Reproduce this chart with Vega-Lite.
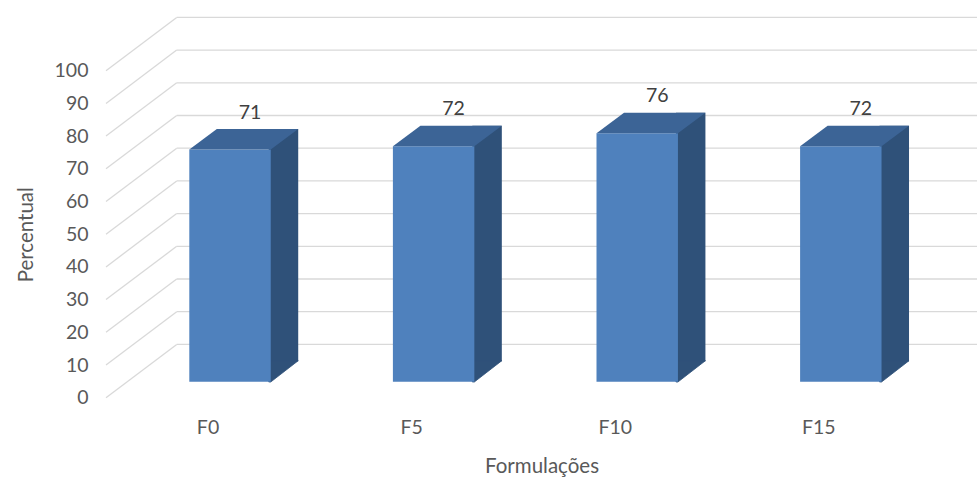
{
  "$schema": "https://vega.github.io/schema/vega-lite/v6.json",
  "width": 871,
  "height": 327,
  "autosize": {"type": "none"},
  "padding": {"left": 106, "top": 70.7, "right": 0, "bottom": 84.3},
  "background": "white",
  "config": {"view": {"stroke": null}, "font": "Lato", "axisY": {"labelOverlap": false, "tickCount": 11}},
  "datasets": {
    "bars": [
      {"f": "F0", "v": 71},
      {"f": "F5", "v": 72},
      {"f": "F10", "v": 76},
      {"f": "F15", "v": 72}
    ],
    "grid": [
      {"t": 0}, {"t": 10}, {"t": 20}, {"t": 30}, {"t": 40}, {"t": 50},
      {"t": 60}, {"t": 70}, {"t": 80}, {"t": 90}, {"t": 100}
    ]
  },
  "layer": [
    {
      "data": {"name": "grid"},
      "mark": {"type": "rule", "color": "#D9D9D9", "strokeWidth": 1.3, "yOffset": -53.3},
      "encoding": {
        "x": {"value": 70.7},
        "x2": {"value": 871},
        "y": {
          "field": "t", "type": "quantitative",
          "scale": {"domain": [0, 100], "nice": false},
          "title": "Percentual",
          "axis": {
            "values": [0, 10, 20, 30, 40, 50, 60, 70, 80, 90, 100],
            "labelOverlap": false,
            "domain": false, "ticks": false, "grid": false,
            "labelPadding": 18, "labelFontSize": 19.5, "labelColor": "#595959",
            "titleFontSize": 20.5, "titleColor": "#595959", "titleFontWeight": "normal",
            "titlePadding": 18
          }
        }
      }
    },
    {
      "data": {"name": "grid"},
      "mark": {"type": "rule", "color": "#D9D9D9", "strokeWidth": 1.3, "y2Offset": -53.3},
      "encoding": {
        "x": {"value": 0},
        "x2": {"value": 70.7},
        "y": {"field": "t", "type": "quantitative", "title": "Percentual"},
        "y2": {"field": "t"}
      }
    },
    {
      "data": {"name": "bars"},
      "mark": {"type": "bar", "color": "#2F5179", "width": 29.5, "xOffset": 53.45, "yOffset": -36.5, "y2Offset": -36.5},
      "encoding": {
        "x": {
          "field": "f", "type": "nominal", "sort": null,
          "scale": {"paddingInner": 0.6, "paddingOuter": 0.439, "align": 0.466},
          "title": "Formulações",
          "axis": {
            "labelFontSize": 19.5, "labelColor": "#595959", "labelPadding": 21,
            "labelOffset": -22, "labelAngle": 0, "domain": false, "ticks": false,
            "titleFontSize": 20.5, "titleColor": "#595959", "titleFontWeight": "normal",
            "titlePadding": 19
          }
        },
        "y": {"field": "v", "type": "quantitative", "title": "Percentual"},
        "y2": {"datum": 0}
      }
    },
    {
      "data": {"name": "bars"},
      "mark": {"type": "point", "shape": "M38.7,-21 L38.7,0.3 L40.7,0.3 L68.2,-21 Z", "size": 4, "filled": true, "color": "#2F5179", "opacity": 1, "stroke": "#2F5179", "strokeWidth": 0.8, "yOffset": -16},
      "encoding": {
        "x": {"field": "f", "type": "nominal", "sort": null, "title": "Formulações"},
        "y": {"datum": 0, "type": "quantitative"}
      }
    },
    {
      "data": {"name": "bars"},
      "mark": {"type": "bar", "color": "#4F81BD", "yOffset": -16, "y2Offset": -16},
      "encoding": {
        "x": {"field": "f", "type": "nominal", "sort": null, "title": "Formulações"},
        "y": {"field": "v", "type": "quantitative", "title": "Percentual"},
        "y2": {"datum": 0}
      }
    },
    {
      "data": {"name": "bars"},
      "mark": {"type": "point", "shape": "M-40.7,0 L40.7,0 L68.2,-20.5 L-13.2,-20.5 Z", "size": 4, "filled": true, "color": "#3C6496", "opacity": 1, "strokeWidth": 0, "yOffset": -16},
      "encoding": {
        "x": {"field": "f", "type": "nominal", "sort": null, "title": "Formulações"},
        "y": {"field": "v", "type": "quantitative", "title": "Percentual"}
      }
    },
    {
      "data": {"name": "bars"},
      "mark": {"type": "text", "fontSize": 19.5, "color": "#404040", "xOffset": 20, "yOffset": -53},
      "encoding": {
        "x": {"field": "f", "type": "nominal", "sort": null, "title": "Formulações"},
        "y": {"field": "v", "type": "quantitative", "title": "Percentual"},
        "text": {"field": "v", "type": "quantitative"}
      }
    }
  ]
}
